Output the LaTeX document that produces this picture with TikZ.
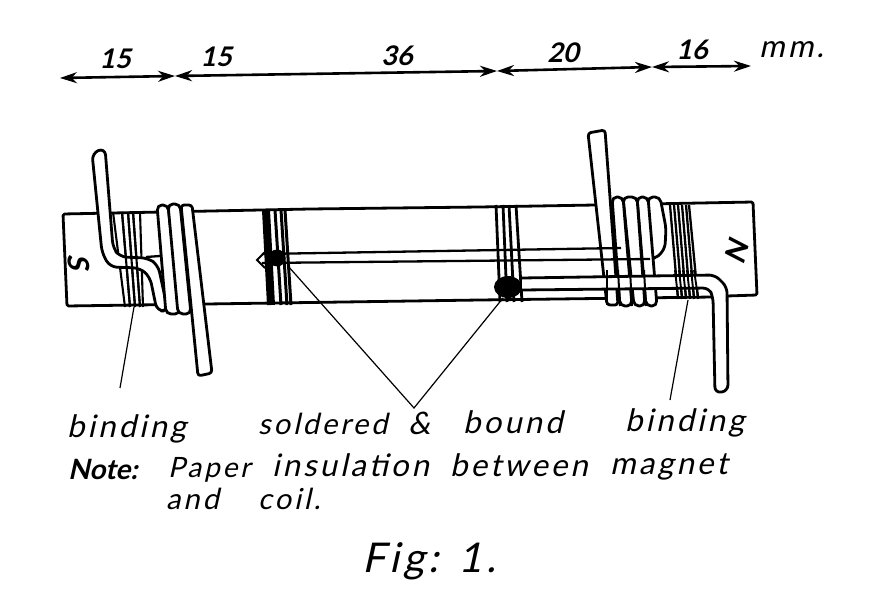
\documentclass[tikz,border=0pt]{standalone}
\usepackage{fontspec}
\setmainfont{Lato}[FakeSlant=0.22,LetterSpace=10]
\newfontfamily\handbold{Lato Bold}[FakeSlant=0.22]
\usetikzlibrary{arrows.meta}
\tikzset{
  outline/.style={draw=black,line width=2.8pt,line join=round},
  strand/.style={outline,fill=white,rounded corners=5pt},
  wire/.style={draw=black,line width=2.3pt},
  bindline/.style={draw=black,line width=2.1pt},
  leader/.style={draw=black,line width=1.2pt},
  dim/.style={draw=black,line width=2.6pt,{Stealth[length=17pt,width=11pt]}-{Stealth[length=17pt,width=11pt]}},
  word/.style={anchor=base west,inner sep=0pt,font=\fontsize{31}{31}\selectfont},
  numeral/.style={anchor=base,inner sep=0pt,font=\handbold\fontsize{27}{27}\selectfont},
}
\begin{document}
\begin{tikzpicture}[x=1pt,y=-1pt]
\useasboundingbox[fill=white] (0,0) rectangle (895,615);
% dimension line
\coordinate (d0) at (60,78);
\coordinate (d1) at (175,76);
\coordinate (d2) at (497,71);
\coordinate (d3) at (652,67);
\coordinate (d4) at (751,66);
\draw[dim] (d0) -- (d1);
\draw[dim] (d1) -- (d2);
\draw[dim] (d2) -- (d3);
\draw[dim] (d3) -- (d4);
\node[numeral] (n1) at (115,69) {15};
\node[numeral] (n2) at (216,67) {15};
\node[numeral] (n3) at (397,66) {36};
\node[numeral] (n4) at (563,63) {20};
\node[numeral] (n5) at (692,60) {16};
\node[word] (mm) at (759,58) {mm.};
% magnet
\draw[outline,rounded corners=1.5pt] (713,297) -- (480,300) -- (207,304) -- (67,306) -- (63,214) -- (310,209) -- (480,207) -- (595,205) -- (753,202) -- (757,295) -- (727,296);
\node[font=\handbold\fontsize{29}{29}\selectfont,rotate=-85,inner sep=0pt] (S) at (79,262) {S};
\node[font=\handbold\fontsize{29}{29}\selectfont,rotate=-105,inner sep=0pt] (N) at (738,248) {N};
% bindings
\foreach \a/\b in {113/125,122/130,128/135,133/140,140/143}{\draw[bindline] (\a,212) -- (\b,307);}
\draw[draw=black,line width=8pt] (266,210) -- (271,305);
\foreach \a/\b in {275/281,281/287,285/291}{\draw[draw=black,line width=3pt] (\a,210) -- (\b,305);}
\foreach \a/\b in {496/500,503/507,509/514,516/522}{\draw[draw=black,line width=2.8pt] (\a,205) -- (\b,302);}
\foreach \a/\b in {670/678,674/682,678/686,682/690,686/694,689/698}{\draw[draw=black,line width=2.3pt] (\a,205) -- (\b,299);}
% left lead
\draw[outline,fill=white,rounded corners=7pt] (92,153) -- (105,148) -- (113,248) -- (120,257) -- (148,258) -- (158,265) -- (168,311) -- (157,311) -- (150,277) -- (140,268) -- (110,267) -- (102,253) -- cycle;
\foreach \a/\b in {122/130,128/135,133/140}{\draw[bindline] (\a,212) -- (\b,307);}
\draw[wire] (146,257) -- (160,256);
% left coil
\draw[strand] (157,205) -- (168,205) -- (180,314) -- (166,314) -- cycle;
\draw[strand] (168,204) -- (180,204) -- (191,314) -- (178,314) -- cycle;
\draw[strand,rounded corners=3pt] (181,205) -- (192,205) -- (212,373) -- (198,376) -- cycle;
% right coil
\draw[strand] (648,197) -- (660,197) -- (666,228) -- (665,248) -- (657,258) -- (650,258) -- cycle;
\draw[strand] (637,197) -- (648,197) -- (657,306) -- (646,306) -- cycle;
\draw[strand] (623,197) -- (637,197) -- (645,306) -- (634,306) -- cycle;
\draw[strand] (612,197) -- (623,197) -- (632,306) -- (620,306) -- cycle;
\draw[outline,fill=white,rounded corners=3pt] (588,133) -- (605,130) -- (618,305) -- (607,305) -- cycle;
% wires
\draw[wire] (262,254) -- (621,248);
\draw[wire] (262,263) -- (650,259);
\draw[outline,fill=white,rounded corners=6pt] (522,278) -- (715,275) -- (727,287) -- (728,391) -- (715,393) -- (713,297) -- (709,288) -- (522,290);
\foreach \a/\b in {670/678,674/682,678/686,682/690,686/694,689/698}{\draw[draw=black,line width=1.9pt] (\a+5,270) -- (\b,297);}
\foreach \x in {620,632,646}{\draw[draw=black,line width=2pt] (\x-2,270) -- (\x,306);}
\draw[outline] (607,270) -- (607,305);
% solder joints
\draw[draw=black,line width=2pt] (265,252) -- (257,260) -- (265,268);
\fill[black] (277,258) circle[radius=8.5];
\fill[black] (508,287) ellipse[x radius=14,y radius=11];
% leaders
\coordinate (lb1) at (134,307);
\coordinate (lb1e) at (120,388);
\coordinate (lb2) at (688,300);
\coordinate (lb2e) at (670,400);
\coordinate (ls1) at (288,266);
\coordinate (ls2) at (503,298);
\coordinate (lsm) at (414,408);
\draw[leader] (lb1) -- (lb1e);
\draw[leader] (lb2) -- (lb2e);
\draw[leader] (ls1) -- (lsm) -- (ls2);
% labels
\node[word] (b1) at (67,437) {binding};
\node[word,font=\fontsize{29}{29}\selectfont] (s1) at (258,434) {soldered};
\node[word] (s2) at (408,434) {\&};
\node[word] (s3) at (463,433) {bound};
\node[word] (b2) at (625,431) {binding};
\node[word,font=\handbold\fontsize{28}{28}\selectfont] (note) at (68,479) {Note:};
\node[word,font=\fontsize{28}{28}\selectfont] (w1) at (168,477) {Paper};
\node[word] (w2) at (272,476) {insulation};
\node[word] (w3) at (450,476) {between};
\node[word] (w4) at (610,474) {magnet};
\node[word,font=\fontsize{29}{29}\selectfont] (w5) at (166,509) {and};
\node[word,font=\fontsize{29}{29}\selectfont] (w6) at (258,509) {coil.};
\node[word,font=\fontsize{41}{41}\selectfont] (fig) at (362,572) {Fig: 1.};
\end{tikzpicture}
\end{document}
